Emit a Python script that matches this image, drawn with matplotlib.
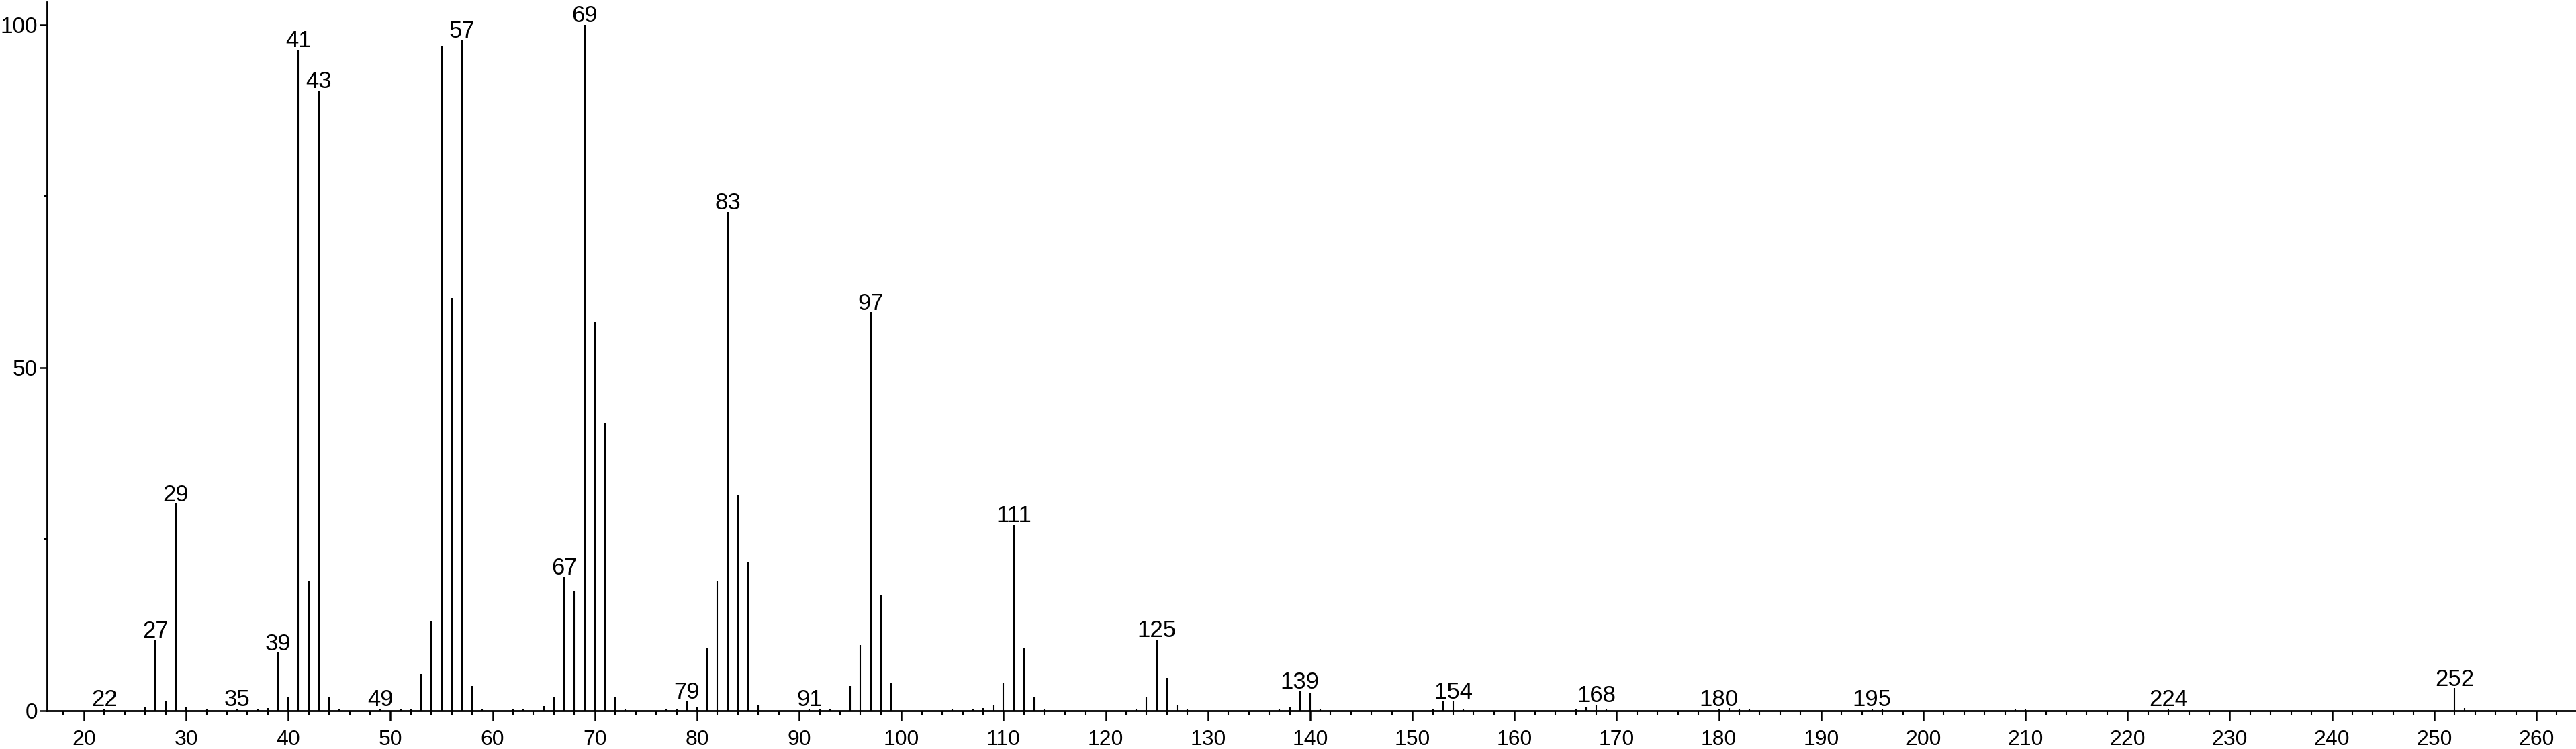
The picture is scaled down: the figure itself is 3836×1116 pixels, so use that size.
import matplotlib
matplotlib.use("Agg")
import matplotlib.pyplot as plt
from matplotlib.ticker import MultipleLocator, FixedLocator

plt.rcParams['font.family'] = ['Liberation Sans', 'DejaVu Sans']

mz = [22, 26, 27, 28, 29, 30, 32, 35, 37, 38, 39, 40, 41, 42, 43, 44, 45, 49, 51, 52,
      53, 54, 55, 56, 57, 58, 59, 62, 63, 65, 66, 67, 68, 69, 70, 71, 72, 73, 77, 78,
      79, 80, 81, 82, 83, 84, 85, 86, 91, 92, 93, 95, 96, 97, 98, 99, 105, 107, 108, 109,
      110, 111, 112, 113, 114, 123, 124, 125, 126, 127, 128, 137, 138, 139, 140, 141,
      152, 153, 154, 155, 166, 167, 168, 169, 180, 181, 182, 183, 195, 196, 209, 210,
      224, 252, 253]
intensity = [0.3, 0.6, 10.3, 1.5, 30.2, 0.6, 0.2, 0.3, 0.2, 0.4, 8.5, 2.0, 96.4, 18.9, 90.4, 2.0, 0.3, 0.3, 0.3, 0.2,
             5.4, 13.1, 96.9, 60.2, 97.8, 3.6, 0.2, 0.3, 0.3, 0.7, 2.1, 19.5, 17.4, 100.0, 56.6, 41.9, 2.1, 0.2, 0.3, 0.3,
             1.4, 0.5, 9.1, 18.9, 72.7, 31.5, 21.7, 0.8, 0.3, 0.2, 0.3, 3.6, 9.6, 58.1, 16.9, 4.1, 0.2, 0.2, 0.4, 0.8,
             4.1, 27.1, 9.1, 2.1, 0.3, 0.3, 2.1, 10.4, 4.8, 0.9, 0.3, 0.3, 0.6, 2.9, 2.6, 0.3,
             0.3, 1.4, 1.4, 0.3, 0.3, 0.5, 0.9, 0.3, 0.3, 0.4, 0.3, 0.2, 0.3, 0.3, 0.3, 0.3,
             0.3, 3.3, 0.4]
labeled = [22, 27, 29, 35, 39, 41, 43, 49, 57, 67, 69, 79, 83, 91, 97, 111, 125, 139,
           154, 168, 180, 195, 224, 252]
xticks = list(range(20, 261, 10))
yticks = [0, 50, 100]

W, H, DPI = 3836, 1116, 100
fig = plt.figure(figsize=(W / DPI, H / DPI), dpi=DPI)
ax = fig.add_axes([70 / W, 57 / H, (W - 70) / W, (1113 - 57) / H])

ax.vlines(mz, 0, intensity, colors='black', linewidth=1.5)

lookup = dict(zip(mz, intensity))
for m in labeled:
    ax.annotate(str(m), xy=(m, lookup[m]), xytext=(0, 2.5), textcoords='offset points',
                ha='center', va='baseline', fontsize=25)

ax.set_xlim(16.39, 263.88)
ax.set_ylim(0, 103.3)

for s in ['top', 'right']:
    ax.spines[s].set_visible(False)
for s in ['left', 'bottom']:
    ax.spines[s].set_linewidth(2.0)

ax.xaxis.set_major_locator(FixedLocator(xticks))
ax.xaxis.set_minor_locator(MultipleLocator(2))
ax.yaxis.set_major_locator(FixedLocator(yticks))
ax.yaxis.set_minor_locator(FixedLocator([25, 75]))
ax.set_xticklabels([str(t) for t in xticks])
ax.set_yticklabels([str(t) for t in yticks])

ax.tick_params(axis='x', which='major', direction='out', length=10.8, width=1.8, labelsize=23, pad=9)
ax.tick_params(axis='x', which='minor', direction='out', length=4.0, width=1.5)
ax.tick_params(axis='y', which='major', direction='out', length=8, width=1.8, labelsize=24, pad=2)
ax.tick_params(axis='y', which='minor', direction='out', length=3, width=1.5)

fig.savefig('out.png', dpi=DPI)
